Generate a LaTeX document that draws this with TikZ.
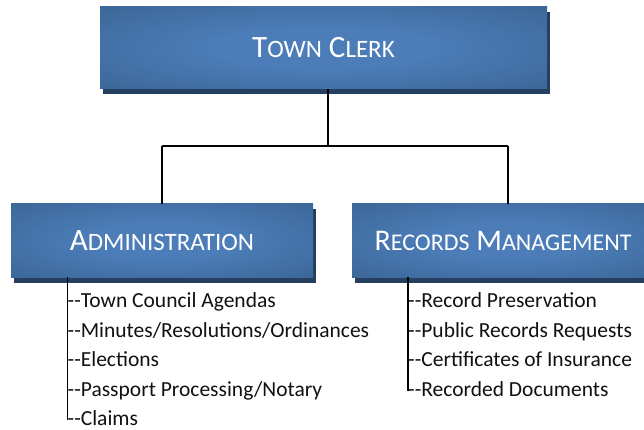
\documentclass[tikz,border=0pt]{standalone}
\usepackage{fontspec}
\setmainfont{Carlito}
\usetikzlibrary{shadows,calc}
\definecolor{boxc}{HTML}{4C7DB8}
\definecolor{boxe}{HTML}{37608F}
\definecolor{shadowc}{HTML}{243F60}
\definecolor{itemc}{HTML}{111111}
\pgfdeclareradialshading{boxshade}{\pgfpoint{0bp}{0bp}}{color(0bp)=(boxc); color(12bp)=(boxc); color(42bp)=(boxe); color(80bp)=(boxe)}
\newcommand\smc[1]{{\fontsize{25}{25}\selectfont #1}}
\newcommand\smcr[1]{{\fontsize{24}{24}\selectfont #1}}
\newcommand\dd{-{}-}
\tikzset{
  orgbox/.style={rectangle, shading=boxshade, text=white, inner sep=0pt,
    font=\fontsize{31}{31}\selectfont,
    drop shadow={shadow xshift=2.5pt, shadow yshift=-5.5pt, fill=shadowc, opacity=1}},
  item/.style={anchor=base west, inner sep=0pt, text=itemc, font=\fontsize{21.5}{21.5}\selectfont},
  conn/.style={draw=black, line width=1.5pt}
}
\begin{document}
\begin{tikzpicture}[x=1pt,y=-1pt]
\useasboundingbox (0,0) rectangle (644,430);
\fill[white] (0,0) rectangle (644,430);
\node[orgbox, minimum width=447pt, minimum height=82pt] (clerk) at (323.5,48) {T\smc{OWN} C\smc{LERK}};
\node[orgbox, minimum width=302pt, minimum height=73pt] (admin) at (162,240.5) {A\smc{DMINISTRATION}};
\node[orgbox, minimum width=312pt, minimum height=73pt] (records) at (508,240.5) {\hspace*{-10pt}{\fontsize{30}{30}\selectfont R\smcr{ECORDS} M\smcr{ANAGEMENT}}};
\coordinate (cs) at ($(clerk.south)+(4.5,0)$);
\coordinate (junc) at (cs |- 0,146);
\draw[conn] (cs) -- (junc);
\draw[conn] (admin.north |- junc) -- (records.north |- junc);
\draw[conn] (admin.north |- junc) -- (admin.north);
\draw[conn] (records.north |- junc) -- (records.north);
% Administration items
\node[item] (a1) at (67.5,307.5) {\dd Town Council Agendas};
\node[item] (a2) at (67.5,337) {\dd Minutes/Resolutions/Ordinances};
\node[item] (a3) at (67.5,366.5) {\dd Elections};
\node[item] (a4) at (67.5,396) {\dd Passport Processing/Notary};
\node[item] (a5) at (67.5,425.5) {\dd Claims};
\coordinate (at) at (67.5,277);
\coordinate (ab) at (67.5,420);
\draw[conn] (at) -- (ab);
% Records items
\node[item] (r1) at (408,307.5) {\dd Record Preservation};
\node[item] (r2) at (408,337) {\dd Public Records Requests};
\node[item] (r3) at (408,366.5) {\dd Certificates of Insurance};
\node[item] (r4) at (408,396) {\dd Recorded Documents};
\coordinate (rt) at (408,277);
\coordinate (rb) at (408,390.5);
\draw[conn] (rt) -- (rb);
\end{tikzpicture}
\end{document}
